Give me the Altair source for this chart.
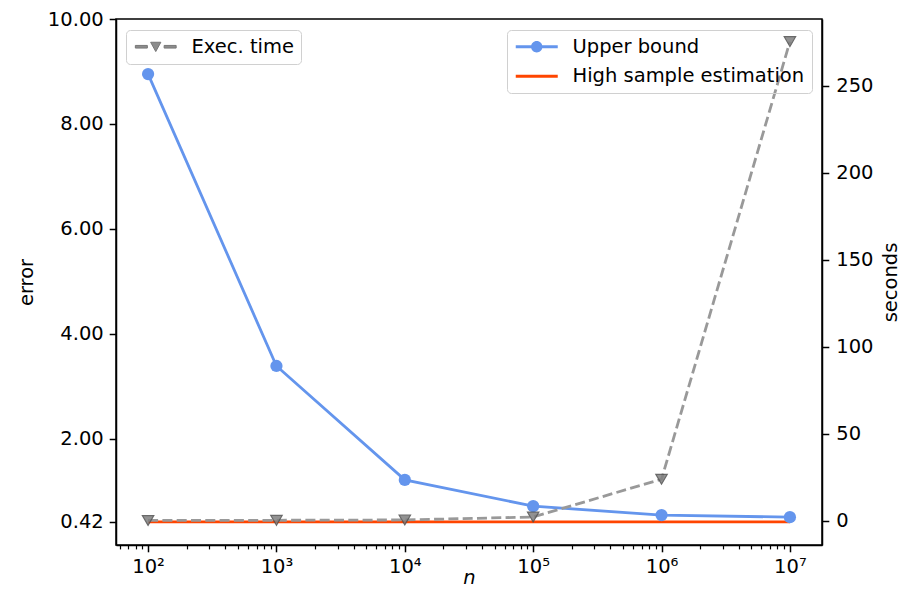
import altair as alt
import pandas as pd

# ---- data ----
n_values = [1e2, 1e3, 1e4, 1e5, 1e6, 1e7]
upper_bound = [8.95, 3.39, 1.22, 0.72, 0.55, 0.51]
high_sample = [0.42, 0.42, 0.42, 0.42, 0.42, 0.42]
exec_time = [0.3, 0.4, 0.6, 2.3, 24.0, 275.5]

left_series = ["Upper bound", "High sample estimation"]
right_series = ["Exec. time"]
left_ticks = [0.42, 2, 4, 6, 8, 10]
right_ticks = [0, 50, 100, 150, 200, 250]
major_x = [1e2, 1e3, 1e4, 1e5, 1e6, 1e7]
x_domain = [10 ** 1.75, 10 ** 7.25]
minor_x = [m * 10 ** e for e in range(1, 8) for m in range(2, 10)
           if x_domain[0] <= m * 10 ** e <= x_domain[1]]

BLUE = "#6495ED"
RED = "#FF4500"
FONT = "DejaVu Sans"
FS = 19.5

ub_df = pd.DataFrame({"n": n_values, "value": upper_bound})
hs_df = pd.DataFrame({"n": n_values, "value": high_sample})
ex_df = pd.DataFrame({"n": n_values, "value": exec_time})
empty_df = pd.DataFrame({"n": pd.Series([], dtype=float),
                         "value": pd.Series([], dtype=float),
                         "series": pd.Series([], dtype=str)})

sup = "['⁰','¹','²','³','⁴','⁵','⁶','⁷','⁸','⁹']"
x_scale = alt.Scale(type="log", domain=x_domain, nice=False)
x_major = alt.X("n:Q", scale=x_scale,
                axis=alt.Axis(values=major_x, title="n", orient="bottom",
                              labelExpr="'10' + " + sup + "[round(log(datum.value)/LN10)]",
                              titleFontStyle="italic", labelPadding=6,
                              titlePadding=-8, labelFlush=False))
x_minor = alt.X("n:Q", scale=x_scale,
                axis=alt.Axis(values=minor_x, labels=False, title=None, domain=False,
                              orient="bottom", tickSize=3.9, tickWidth=1.2))

y_left = alt.Y("value:Q",
               scale=alt.Scale(domain=[-0.02, 10], nice=False, zero=False),
               axis=alt.Axis(values=left_ticks, format=".2f", title="error",
                             orient="left", labelPadding=6, titlePadding=11))
y_right = alt.Y("value:Q",
                scale=alt.Scale(domain=[-13.8, 288.5], nice=False, zero=False),
                axis=alt.Axis(values=right_ticks, title="seconds", orient="right",
                              labelPadding=7, titlePadding=8, titleAngle=270,
                              titleBaseline="top"))

# legend symbol paths (unit coords, scaled by sqrt(size)/2)
p_line_circle = ("M-3.5,-0.24L3.5,-0.24L3.5,0.24L-3.5,0.24Z "
                 "M0.95,0A0.95,0.95,0,1,1,-0.95,0A0.95,0.95,0,1,1,0.95,0Z")
p_line = "M-3.5,-0.24L3.5,-0.24L3.5,0.24L-3.5,0.24Z"
p_exec = ("M-3.4,-0.22L-1.4,-0.22L-1.4,0.22L-3.4,0.22Z "
          "M1.4,-0.22L3.4,-0.22L3.4,0.22L1.4,0.22Z "
          "M-0.85,-0.75L0.85,-0.75L0,0.8Z")

legend_common = dict(orient="none", title=None, padding=7, symbolSize=144,
                     symbolOffset=13, labelOffset=26, rowPadding=8.5, labelLimit=0,
                     fillColor="transparent", strokeColor="#d0d0d0",
                     cornerRadius=4,
                     labelFontSize=FS, labelFont=FONT, labelColor="black",
                     legendY=11)

left_legend = alt.Legend(legendX=391, symbolStrokeWidth=0, **legend_common)
right_legend = alt.Legend(legendX=10, symbolStrokeWidth=1, **legend_common)

ub_line = alt.Chart(ub_df).mark_line(color=BLUE, strokeWidth=2.8).encode(x=x_major, y=y_left)
hs_line = alt.Chart(hs_df).mark_line(color=RED, strokeWidth=2.8).encode(x=x_major, y=y_left)
ub_pts = alt.Chart(ub_df).mark_point(filled=True, color=BLUE, size=150, opacity=1).encode(x=x_major, y=y_left)
left_leg = alt.Chart(empty_df).mark_point(filled=True, opacity=1).encode(
    x=x_major, y=y_left,
    fill=alt.Fill("series:N", scale=alt.Scale(domain=left_series, range=[BLUE, RED]), legend=left_legend),
    shape=alt.Shape("series:N", scale=alt.Scale(domain=left_series, range=[p_line_circle, p_line]), legend=left_legend),
)
left = alt.layer(ub_line, hs_line, ub_pts, left_leg)

ex_line = alt.Chart(ex_df).mark_line(color="#999999", strokeWidth=2.8, strokeDash=[10, 4.3]).encode(x=x_minor, y=y_right)
ex_pts = alt.Chart(ex_df).mark_point(filled=True, shape="triangle-down", size=130,
                                      fill="#808080", stroke="#505050", strokeWidth=1.2,
                                      opacity=0.85).encode(x=x_minor, y=y_right)
right_leg = alt.Chart(empty_df).mark_point(filled=True, opacity=1).encode(
    x=x_minor, y=y_right,
    fill=alt.Fill("series:N", scale=alt.Scale(domain=right_series, range=["#8c8c8c"]), legend=right_legend),
    stroke=alt.Stroke("series:N", scale=alt.Scale(domain=right_series, range=["#777777"]), legend=right_legend),
    shape=alt.Shape("series:N", scale=alt.Scale(domain=right_series, range=[p_exec]), legend=right_legend),
)
right = alt.layer(ex_line, ex_pts, right_leg)

chart = alt.layer(left, right).resolve_scale(
    y="independent", fill="independent", shape="independent", stroke="independent"
).resolve_axis(x="independent").properties(
    width=706, height=526,
    padding={"left": 108, "top": 11, "right": 80, "bottom": 44},
    autosize=alt.AutoSizeParams(type="none"),
).configure_view(stroke="black", strokeWidth=1.5).configure_axis(
    labelFont=FONT, labelFontSize=FS, labelColor="black",
    titleFont=FONT, titleFontSize=FS, titleFontWeight="normal", titleColor="black",
    tickColor="black", tickWidth=1.5, tickSize=6.8,
    domainColor="black", domainWidth=1.5, grid=False,
)

chart.save("out.html", embed_options={"renderer": "svg", "actions": False})
